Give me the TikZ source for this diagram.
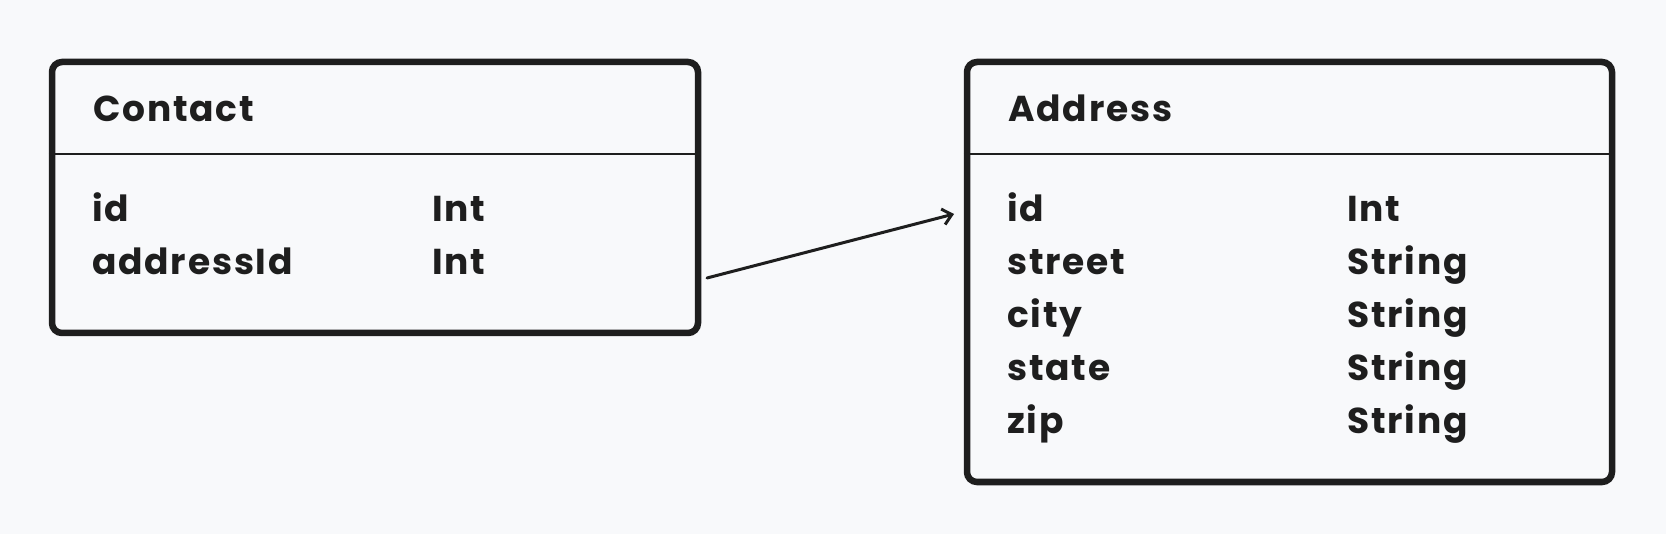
\documentclass[tikz,border=0pt]{standalone}
\usepackage{fontspec}
\setmainfont{Poppins}[LetterSpace=5]
\usepackage{tikz}
\usetikzlibrary{arrows.meta, positioning, calc}
\definecolor{paper}{RGB}{248,249,251}
\definecolor{ink}{RGB}{30,30,30}

\begin{document}
\begin{tikzpicture}[x=1pt, y=-1pt,
  tablebox/.style={draw=ink, line width=6.5pt, rounded corners=10pt, inner sep=0pt},
  headrule/.style={draw=ink, line width=2.2pt},
  field/.style={anchor=base west, inner sep=0pt, text=ink, font=\fontsize{36}{40}\selectfont\bfseries},
  fkarrow/.style={draw=ink, line width=3pt, line cap=round, -{Straight Barb[length=9pt, width=16pt, line width=3pt]}}]
  % page
  \fill[paper] (0,0) rectangle (1666,534);
  \useasboundingbox (0,0) rectangle (1666,534);
  % Contact table
  \node[tablebox, minimum width=646pt, minimum height=271pt] (contact) at (375,197.5) {};
  \draw[headrule] (contact.west |- 0,154) -- (contact.east |- 0,154);
  \node[field] (contactTitle) at (93,122) {Contact};
  \node[field] (cId) at (92,222) {id};
  \node[field] (cIdType) at (432,222) {Int};
  \node[field] (cAddrId) at (92,275) {addressId};
  \node[field] (cAddrIdType) at (432,275) {Int};
  % Address table
  \node[tablebox, minimum width=645pt, minimum height=420pt] (address) at (1289.5,272) {};
  \draw[headrule] (address.west |- 0,154) -- (address.east |- 0,154);
  \node[field] (addressTitle) at (1008,122) {Address};
  \foreach \name/\type [count=\i from 0] in {id/Int, street/String, city/String, state/String, zip/String} {
    \node[field] (a\name) at (1007,222+52.8*\i) {\name};
    \node[field] (a\name Type) at (1347,222+52.8*\i) {\type};
  }
  % foreign key
  \coordinate (fkFrom) at (707,278);
  \coordinate (fkTo) at (954,214);
  \draw[fkarrow] (fkFrom) -- (fkTo);
\end{tikzpicture}
\end{document}
